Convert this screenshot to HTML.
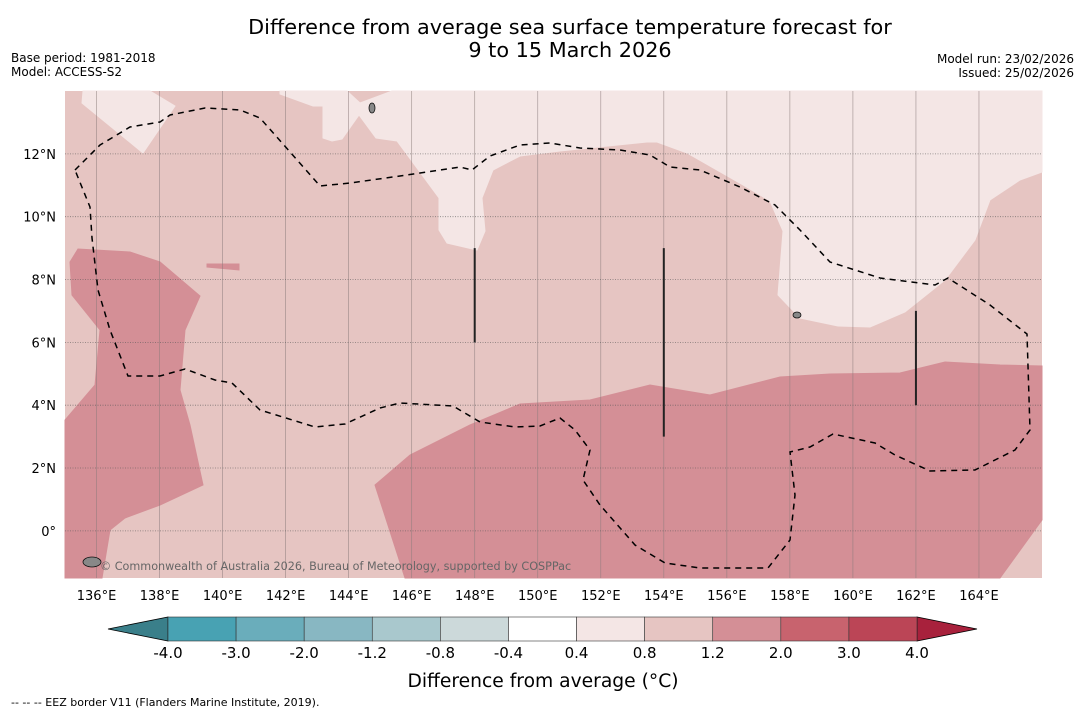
<!DOCTYPE html>
<html><head><meta charset="utf-8"><style>
body{margin:0;background:#fff;width:1085px;height:713px;overflow:hidden;font-family:"Liberation Sans","DejaVu Sans",sans-serif}
svg{display:block}
</style></head><body>
<svg id="s" width="1085" height="713" font-family="DejaVu Sans, Liberation Sans, sans-serif">
<text x="570" y="34" text-anchor="middle" font-size="20.8">Difference from average sea surface temperature forecast for</text>
<text x="570" y="57" text-anchor="middle" font-size="20.8">9 to 15 March 2026</text>
<text x="11" y="62" font-size="12">Base period: 1981-2018</text>
<text x="11" y="76" font-size="12">Model: ACCESS-S2</text>
<text x="1074" y="63" font-size="12" text-anchor="end">Model run: 23/02/2026</text>
<text x="1074" y="77" font-size="12" text-anchor="end">Issued: 25/02/2026</text>
<g id="map"></g>
<g id="cb"></g>
<text x="543" y="687" text-anchor="middle" font-size="18.7">Difference from average (°C)</text>
<text x="11" y="706" font-size="11">--  --  -- EEZ border V11 (Flanders Marine Institute, 2019).</text>
</svg>
<script>
// map extent and data
const lonTicks=[136,138,140,142,144,146,148,150,152,154,156,158,160,162,164];
const latTicks=[0,2,4,6,8,10,12];
const cbLevels=[-4.0,-3.0,-2.0,-1.2,-0.8,-0.4,0.4,0.8,1.2,2.0,3.0,4.0];
const cbColors=["#48a2b3","#6aadbb","#88b7c2","#a9c8cd","#ccd9da","#ffffff","#f4e6e5","#e6c5c2","#d48f96","#c8636e","#bb4556"];
// region outlines in pixel-derived coords, converted to lon/lat below
const lightTL=[[83,91],[82,103],[143,153],[175,106],[150,91]];
const lightTop=[[280,91],[280,94],[313,106],[323,106],[323,138],[332,141],[342,139],[359,115],[376,138],[397,141],[439,198],[439,230],[447,243],[477,250],[485,231],[482,198],[493,170],[520,156],[560,151],[647,142],[657,142],[687,153],[743,185],[770,201],[783,231],[778,295],[800,318],[838,326],[870,327],[905,312],[945,280],[975,240],[990,200],[1020,180],[1042,172],[1042,91],[392,91],[360,103],[347,91]];
const darkLeft=[[70,262],[78,249],[130,252],[160,262],[200,296],[185,330],[180,390],[190,425],[203,485],[160,505],[125,518],[110,530],[102,578],[65,578],[65,420],[95,385],[100,330],[72,295]];
const darkSmall=[[207,264],[239,264],[239,270],[207,267]];
const darkBR=[[375,485],[410,455],[470,425],[520,404],[590,400],[650,385],[710,395],[780,377],[830,374],[900,373],[945,362],[1000,365],[1042,366],[1042,520],[1000,578],[405,578]];
const eez=[[75,170],[100,145],[130,127],[160,122],[170,115],[205,108],[240,110],[260,118],[320,186],[350,183],[400,176],[460,167],[472,170],[490,156],[520,145],[550,143],[580,148],[620,150],[650,155],[670,167],[700,170],[740,187],[775,205],[800,230],[830,262],[880,278],[935,285],[948,278],[990,305],[1027,334],[1030,430],[1015,450],[975,470],[930,471],[895,455],[875,443],[833,434],[810,447],[790,452],[795,495],[790,540],[768,568],[700,568],[665,563],[635,545],[600,505],[583,480],[590,450],[575,430],[560,418],[540,426],[515,427],[480,422],[453,406],[400,403],[380,408],[345,424],[315,427],[260,410],[232,383],[215,380],[185,369],[160,376],[128,376],[110,330],[98,290],[92,238],[90,207],[75,170]];
const bars=[[148,9,6],[154,9,3],[162,7,4]];

const X0=65,X1=1042,Y0=91,Y1=578,L0=135,L1=166,A0=-1.5,A1=14;
const xS=l=>X0+(l-L0)/(L1-L0)*(X1-X0);
const yS=a=>Y1-(a-A0)/(A1-A0)*(Y1-Y0);
const NS="http://www.w3.org/2000/svg";
function mk(p,t,a){const e=document.createElementNS(NS,t);for(const k in a)e.setAttribute(k,a[k]);p.appendChild(e);return e;}
const map=document.getElementById('map');
const toLL=p=>[L0+(p[0]-X0)/(X1-X0)*(L1-L0),A0+(Y1-p[1])/(Y1-Y0)*(A1-A0)];
const pts=arr=>arr.map(toLL).map(q=>xS(q[0]).toFixed(1)+','+yS(q[1]).toFixed(1)).join(' ');
let e=mk(map,'rect',{x:X0,y:Y0,width:X1-X0,height:Y1-Y0,fill:'#e6c5c2'});


[[lightTL,'#f4e6e5','anomaly-0.4-0.8-region-nw'],[lightTop,'#f4e6e5','anomaly-0.4-0.8-region-north'],[darkLeft,'#d48f96','anomaly-1.2-2.0-region-west'],[darkSmall,'#d48f96','anomaly-1.2-2.0-patch'],[darkBR,'#d48f96','anomaly-1.2-2.0-region-south']].forEach(r=>{
 const p=mk(map,'polygon',{points:pts(r[0]),fill:r[1],stroke:r[1]});
 
 
});
lonTicks.forEach(l=>{
 const g=mk(map,'line',{x1:xS(l),x2:xS(l),y1:Y0,y2:Y1,stroke:'#8a7a7a','stroke-width':0.7,'stroke-opacity':0.7});
 
 
 const t=mk(document.getElementById('s'),'text',{x:xS(l),y:600,'text-anchor':'middle','font-size':13});
 t.textContent=l+'°E';
 
 
});
latTicks.forEach(a=>{
 const g=mk(map,'line',{x1:X0,x2:X1,y1:yS(a),y2:yS(a),stroke:'#555','stroke-width':0.8,'stroke-dasharray':'1,1.5','stroke-opacity':0.7});
 
 
 const t=mk(document.getElementById('s'),'text',{x:56,y:yS(a)+5,'text-anchor':'end','font-size':13});
 t.textContent=a===0?'0°':a+'°N';
 
 
});
e=mk(map,'polyline',{points:pts(eez),fill:'none',stroke:'#000','stroke-width':1.5,'stroke-dasharray':'6,5'});


bars.forEach(b=>{
 const l=mk(map,'line',{x1:xS(b[0]),x2:xS(b[0]),y1:yS(b[1]),y2:yS(b[2]),stroke:'#222','stroke-width':2});
 
 
});
[[372,108,3,5],[797,315,4,3],[92,562,9,5]].forEach(i=>{
 const el=mk(map,'ellipse',{cx:i[0],cy:i[1],rx:i[2],ry:i[3],fill:'#888',stroke:'#111','stroke-width':0.8});
 
 
});
e=mk(map,'text',{x:100,y:570,'font-size':11.2,fill:'#666'});
e.textContent='© Commonwealth of Australia 2026, Bureau of Meteorology, supported by COSPPac';


// colorbar
const cb=document.getElementById('cb');
const C0=168,C1=917,CY=617,CH=24,n=cbColors.length,w=(C1-C0)/n;
e=mk(cb,'polygon',{points:`${C0},${CY} ${C0},${CY+CH} 108,${CY+CH/2}`,fill:'#3a7f8a',stroke:'#000','stroke-width':0.8});


e=mk(cb,'polygon',{points:`${C1},${CY} ${C1},${CY+CH} 977,${CY+CH/2}`,fill:'#a8213c',stroke:'#000','stroke-width':0.8});


cbColors.forEach((c,i)=>{
 const r=mk(cb,'rect',{x:C0+i*w,y:CY,width:w,height:CH,fill:c,stroke:'#333','stroke-width':0.6});
 
 
});
cbLevels.forEach((v,i)=>{
 const t=mk(cb,'text',{x:C0+i*w,y:658,'text-anchor':'middle','font-size':15});
 t.textContent=v.toFixed(1);
 
 
});
</script>
</body></html>
